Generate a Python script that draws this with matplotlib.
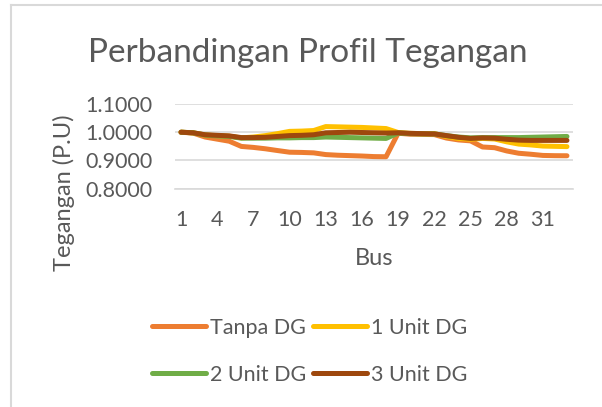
import matplotlib
matplotlib.use("Agg")
import matplotlib.pyplot as plt
from matplotlib.lines import Line2D

# -------------------------
# Data
# -------------------------
bus = list(range(1, 34))

tanpa_dg = [1.0000, 0.9970, 0.9829, 0.9755, 0.9681, 0.9497, 0.9462, 0.9413, 0.9351,
            0.9292, 0.9284, 0.9269, 0.9208, 0.9185, 0.9171, 0.9157, 0.9137, 0.9131,
            0.9965, 0.9929, 0.9922, 0.9916, 0.9794, 0.9727, 0.9694, 0.9477, 0.9452,
            0.9337, 0.9255, 0.9220, 0.9178, 0.9169, 0.9166]

unit1_dg = [1.0000, 0.9980, 0.9900, 0.9880, 0.9860, 0.9800, 0.9830, 0.9880, 0.9950,
            1.0030, 1.0040, 1.0060, 1.0200, 1.0190, 1.0180, 1.0170, 1.0150, 1.0130,
            0.9990, 0.9960, 0.9950, 0.9950, 0.9850, 0.9780, 0.9750, 0.9780, 0.9760,
            0.9660, 0.9580, 0.9550, 0.9510, 0.9500, 0.9490]

unit2_dg = [1.0000, 0.9980, 0.9900, 0.9870, 0.9850, 0.9790, 0.9790, 0.9790, 0.9800,
            0.9800, 0.9810, 0.9810, 0.9830, 0.9820, 0.9810, 0.9800, 0.9790, 0.9780,
            0.9970, 0.9950, 0.9940, 0.9940, 0.9880, 0.9830, 0.9800, 0.9810, 0.9810,
            0.9810, 0.9810, 0.9820, 0.9830, 0.9840, 0.9850]

unit3_dg = [1.0000, 0.9980, 0.9910, 0.9890, 0.9870, 0.9810, 0.9810, 0.9820, 0.9850,
            0.9880, 0.9890, 0.9910, 0.9980, 0.9990, 1.0000, 0.9990, 0.9980, 0.9970,
            0.9980, 0.9960, 0.9950, 0.9940, 0.9880, 0.9820, 0.9780, 0.9800, 0.9790,
            0.9750, 0.9720, 0.9710, 0.9710, 0.9710, 0.9710]

series_names = ["Tanpa DG", "1 Unit DG", "2 Unit DG", "3 Unit DG"]
y_ticks = [0.8, 0.9, 1.0, 1.1]
x_ticks = [1, 4, 7, 10, 13, 16, 19, 22, 25, 28, 31]

colors = ["#ED7D31", "#FFC000", "#70AD47", "#9E480E"]
text_color = "#595959"
grid_color = "#D9D9D9"

plt.rcParams["font.family"] = ["Lato", "DejaVu Sans"]

fig = plt.figure(figsize=(6.02, 4.07), dpi=100)
ax = fig.add_axes([0.2907, 0.5364, 0.6611, 0.2081])

for vals, name, col in zip([tanpa_dg, unit1_dg, unit2_dg, unit3_dg], series_names, colors):
    ax.plot(bus, vals, color=col, lw=3.6, solid_capstyle="round",
            solid_joinstyle="round", label=name)

ax.set_xlim(0.5, 33.5)
ax.set_ylim(0.8, 1.1)
ax.set_yticks(y_ticks)
ax.set_yticklabels([f"{v:.4f}" for v in y_ticks])
ax.set_xticks(x_ticks)
ax.set_xticklabels([str(v) for v in x_ticks])
ax.tick_params(axis="both", length=0, labelsize=15.5, colors=text_color)
ax.tick_params(axis="y", pad=16)
ax.tick_params(axis="x", pad=15)
ax.yaxis.grid(True, color=grid_color, lw=1.2)
ax.set_axisbelow(True)
for side in ["top", "right", "left"]:
    ax.spines[side].set_visible(False)
ax.spines["bottom"].set_color(grid_color)
ax.spines["bottom"].set_linewidth(1.2)

ax.set_xlabel("Bus", fontsize=17, color=text_color, labelpad=13)
fig.text(0.106, 0.527, "Tegangan (P.U)", rotation=90, fontsize=17,
         color=text_color, ha="center", va="center")

fig.text(0.512, 0.871, "Perbandingan Profil Tegangan", fontsize=24,
         color=text_color, ha="center", va="center")

# legend is filled column-wise, so reorder to get row-wise Excel order
order = [0, 2, 1, 3]
handles = [Line2D([0], [0], color=colors[i], lw=3.6, solid_capstyle="round") for i in order]
labels = [series_names[i] for i in order]
fig.legend(handles, labels, loc="center", bbox_to_anchor=(0.515, 0.137),
           ncol=2, frameon=False, fontsize=15.5, labelcolor=text_color,
           handlelength=2.5, handletextpad=0.2, columnspacing=0.3,
           labelspacing=1.25)

# outer chart border (cropped at top-left)
fig.add_artist(Line2D([0.0183, 0.0183], [0.0, 0.988], color=grid_color, lw=1.5,
                      transform=fig.transFigure))
fig.add_artist(Line2D([0.0183, 1.0], [0.988, 0.988], color=grid_color, lw=1.5,
                      transform=fig.transFigure))

fig.savefig("out.png", dpi=100)
